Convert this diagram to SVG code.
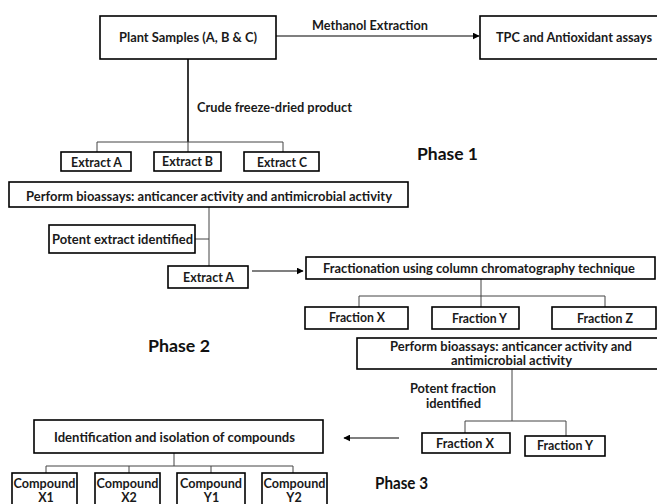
<svg xmlns="http://www.w3.org/2000/svg" width="657" height="504" viewBox="0 0 657 504">
<style>
.box{fill:#fff;stroke:#000;stroke-width:1.6}
.t{font-family:Lato,"Liberation Sans",sans-serif;font-weight:700;font-size:12.5px;fill:#1a1a1a;text-anchor:middle;dominant-baseline:central}
.ph{font-family:Lato,"Liberation Sans",sans-serif;font-weight:700;font-size:17px;fill:#111;text-anchor:middle;dominant-baseline:central}
.c{fill:none;stroke:#444;stroke-width:1}
.c2{fill:none;stroke:#222;stroke-width:1.8}
.a{fill:none;stroke:#000;stroke-width:1.2;marker-end:url(#ah)}
</style>
<defs>
<marker id="ah" viewBox="0 0 10 10" refX="9" refY="5" markerWidth="7" markerHeight="7" markerUnits="userSpaceOnUse" orient="auto">
<path d="M0,0 L10,5 L0,10 z" fill="#000"/>
</marker>
</defs>
<rect width="657" height="504" fill="#fff"/>
<g id="connectors">
<line class="a" x1="276" y1="36" x2="479" y2="36"/>
<polyline class="c2" points="188,59 188,142"/>
<polyline class="c" points="97,152 97,142 283,142 283,152"/>
<line class="c" x1="188" y1="142" x2="188" y2="154"/>
<polyline class="c" points="209,207 209,266"/>
<line class="c" x1="195" y1="239" x2="209" y2="239"/>
<line class="a" x1="252" y1="271" x2="303" y2="271"/>
<polyline class="c" points="481,279 481,296"/>
<polyline class="c" points="359,307 359,296 605,296 605,307"/>
<line class="c" x1="481" y1="296" x2="481" y2="307"/>
<polyline class="c" points="512,369 512,421"/>
<polyline class="c" points="465,433 465,421 566,421 566,436"/>
<line class="a" x1="399" y1="438" x2="344" y2="438"/>
<polyline class="c" points="174,453 174,466"/>
<polyline class="c" points="46,473 46,466 293,466 293,473"/>
<line class="c" x1="129" y1="466" x2="129" y2="473"/>
<line class="c" x1="211" y1="466" x2="211" y2="473"/>
</g>
<g id="plant"><rect class="box" x="100" y="16" width="176" height="43"/><text class="t" x="188" y="37" textLength="138" lengthAdjust="spacingAndGlyphs">Plant Samples (A, B &amp; C)</text></g>
<g id="methanol"><text class="t" x="370" y="25" textLength="116" lengthAdjust="spacingAndGlyphs">Methanol Extraction</text></g>
<g id="tpc"><rect class="box" x="480" y="16" width="185" height="43"/><text class="t" x="574" y="37" textLength="156" lengthAdjust="spacingAndGlyphs">TPC and Antioxidant assays</text></g>
<g id="crude"><text class="t" x="274.5" y="107" textLength="155" lengthAdjust="spacingAndGlyphs">Crude freeze-dried product</text></g>
<g id="extA1"><rect class="box" x="61" y="152" width="70" height="19"/><text class="t" x="96.5" y="162" textLength="51" lengthAdjust="spacingAndGlyphs">Extract A</text></g>
<g id="extB"><rect class="box" x="154" y="152" width="67" height="19"/><text class="t" x="187.5" y="161.5" textLength="51" lengthAdjust="spacingAndGlyphs">Extract B</text></g>
<g id="extC"><rect class="box" x="244" y="152" width="75" height="19"/><text class="t" x="282" y="162" textLength="50" lengthAdjust="spacingAndGlyphs">Extract C</text></g>
<g id="phase1"><text class="ph" x="447.5" y="153" textLength="61" lengthAdjust="spacingAndGlyphs">Phase 1</text></g>
<g id="bio1"><rect class="box" x="9" y="182" width="399" height="25"/><text class="t" x="209" y="196" textLength="366" lengthAdjust="spacingAndGlyphs">Perform bioassays: anticancer activity and antimicrobial activity</text></g>
<g id="potentExt"><rect class="box" x="49" y="225" width="146" height="28"/><text class="t" x="122.5" y="239" textLength="141" lengthAdjust="spacingAndGlyphs">Potent extract identified</text></g>
<g id="extA2"><rect class="box" x="168" y="266" width="80" height="22"/><text class="t" x="208.5" y="277" textLength="51" lengthAdjust="spacingAndGlyphs">Extract A</text></g>
<g id="fract"><rect class="box" x="306" y="257" width="349" height="22"/><text class="t" x="479" y="268" textLength="312" lengthAdjust="spacingAndGlyphs">Fractionation using column chromatography technique</text></g>
<g id="fx1"><rect class="box" x="305" y="307" width="103" height="22"/><text class="t" x="357" y="317" textLength="56" lengthAdjust="spacingAndGlyphs">Fraction X</text></g>
<g id="fy1"><rect class="box" x="432" y="307" width="87" height="22"/><text class="t" x="479.5" y="318" textLength="55" lengthAdjust="spacingAndGlyphs">Fraction Y</text></g>
<g id="fz1"><rect class="box" x="552" y="307" width="104" height="22"/><text class="t" x="605" y="318" textLength="56" lengthAdjust="spacingAndGlyphs">Fraction Z</text></g>
<g id="phase2"><text class="ph" x="179" y="345" textLength="62" lengthAdjust="spacingAndGlyphs">Phase 2</text></g>
<g id="bio2"><rect class="box" x="357" y="338" width="310" height="31"/><text class="t" x="511" y="346" textLength="242" lengthAdjust="spacingAndGlyphs">Perform bioassays: anticancer activity and</text><text class="t" x="511.5" y="360" textLength="121" lengthAdjust="spacingAndGlyphs">antimicrobial activity</text></g>
<g id="potentFr"><text class="t" x="453" y="388" textLength="86" lengthAdjust="spacingAndGlyphs">Potent fraction</text><text class="t" x="453.5" y="403" textLength="55" lengthAdjust="spacingAndGlyphs">identified</text></g>
<g id="fx2"><rect class="box" x="422" y="433" width="88" height="20"/><text class="t" x="465" y="443.5" textLength="58" lengthAdjust="spacingAndGlyphs">Fraction X</text></g>
<g id="fy2"><rect class="box" x="525" y="436" width="80" height="20"/><text class="t" x="565" y="445" textLength="56" lengthAdjust="spacingAndGlyphs">Fraction Y</text></g>
<g id="ident"><rect class="box" x="34" y="420" width="289" height="33"/><text class="t" x="174.5" y="437" textLength="241" lengthAdjust="spacingAndGlyphs">Identification and isolation of compounds</text></g>
<g id="cx1"><rect class="box" x="12" y="473" width="65" height="36"/><text class="t" x="44.5" y="483" textLength="62" lengthAdjust="spacingAndGlyphs">Compound</text><text class="t" x="46" y="497">X1</text></g>
<g id="cx2"><rect class="box" x="95" y="473" width="65" height="36"/><text class="t" x="127.5" y="483" textLength="62" lengthAdjust="spacingAndGlyphs">Compound</text><text class="t" x="129" y="497">X2</text></g>
<g id="cy1"><rect class="box" x="177" y="473" width="68" height="36"/><text class="t" x="211" y="483" textLength="62" lengthAdjust="spacingAndGlyphs">Compound</text><text class="t" x="211.5" y="497">Y1</text></g>
<g id="cy2"><rect class="box" x="262" y="473" width="65" height="36"/><text class="t" x="294.5" y="483" textLength="62" lengthAdjust="spacingAndGlyphs">Compound</text><text class="t" x="294" y="497">Y2</text></g>
<g id="phase3"><text class="ph" x="401.5" y="482" textLength="53" lengthAdjust="spacingAndGlyphs">Phase 3</text></g>
</svg>
